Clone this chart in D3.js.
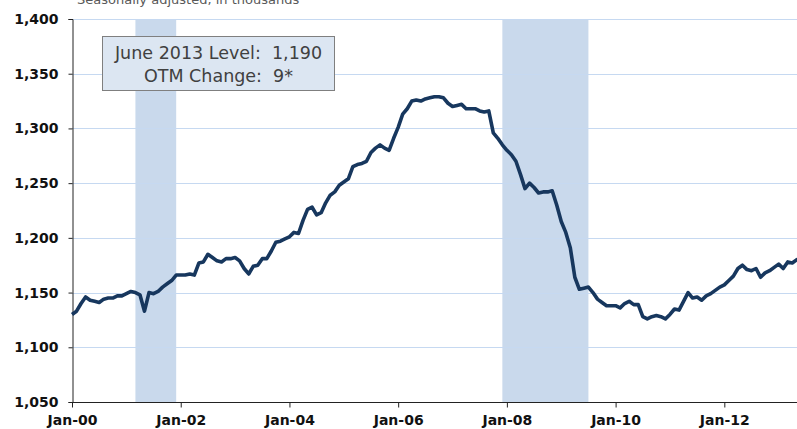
<!DOCTYPE html>
<html>
<head>
<meta charset="utf-8">
<script src="https://cdn.jsdelivr.net/npm/d3@7"></script>
<style>
  body { margin: 0; background: #fff; }
  svg { display: block; }
</style>
</head>
<body>
<div id="chart"></div>
<script>
/* Monthly employment, Jan 2000 - Jun 2013 */

const startYear = 2000

// seasonally adjusted, thousands, one value per month from Jan-00
const employment = [
  1130, 1133, 1140, 1146, 1143, 1142, 1141, 1144, 1145, 1145, 1147, 1147,
  1149, 1151, 1150, 1148, 1133, 1150, 1149, 1151, 1155, 1158, 1161, 1166,
  1166, 1166, 1167, 1166, 1177, 1178, 1185, 1182, 1179, 1178, 1181, 1181,
  1182, 1179, 1172, 1167, 1174, 1175, 1181, 1181, 1188, 1196, 1197, 1199,
  1201, 1205, 1204, 1216, 1226, 1228, 1221, 1223, 1232, 1239, 1242, 1248,
  1251, 1254, 1265, 1267, 1268, 1270, 1278, 1282, 1285, 1282, 1280, 1291,
  1301, 1313, 1318, 1325, 1326, 1325, 1327, 1328, 1329, 1329, 1328, 1323,
  1320, 1321, 1322, 1318, 1318, 1318, 1316, 1315, 1316, 1296, 1291, 1285,
  1280, 1276, 1270, 1258, 1245, 1250, 1246, 1241, 1242, 1242, 1243, 1230,
  1215, 1205, 1191, 1164, 1153, 1154, 1155, 1150, 1144, 1141, 1138, 1138,
  1138, 1136, 1140, 1142, 1139, 1139, 1128, 1126, 1128, 1129, 1128, 1126,
  1130, 1135, 1134, 1142, 1150, 1145, 1146, 1143, 1147, 1149, 1152, 1155,
  1157, 1161, 1165, 1172, 1175, 1171, 1170, 1172, 1164, 1168, 1170, 1173,
  1176, 1172, 1178, 1177, 1180, 1182
]

// recessions as [first month, month after end]
const recessions = [
  ["2001-03", "2001-12"],
  ["2007-12", "2009-07"]
]

const xTickLabels = ["Jan-00", "Jan-02", "Jan-04", "Jan-06", "Jan-08", "Jan-10", "Jan-12"]
const yTicks = [1050, 1100, 1150, 1200, 1250, 1300, 1350, 1400]

const subtitle = "Seasonally adjusted, in thousands"
const noteLines = ["June 2013 Level:  1,190", "OTM Change:  9*"]

const width = 797
const height = 429
const plotLeft = 72
const plotTop = 19
const plotBottom = 402
const fontFamily = "'DejaVu Sans', Verdana, sans-serif"

const monthIndex = s => {
  let [yr, m] = s.split("-").map(Number)
  return (yr - startYear) * 12 + (m - 1)
}

const svg = d3.select("#chart")
  .append("svg")
  .attr("width", width)
  .attr("height", height)
  .style("font-family", fontFamily)

let x = d3.scaleLinear()
  .domain([0, employment.length - 1])
  .range([plotLeft, plotLeft + (employment.length - 1) * 4.53])

let y = d3.scaleLinear()
  .domain([1050, 1400])
  .range([plotBottom, plotTop])

// recession bands
svg.append("g")
  .selectAll("rect")
  .data(recessions)
  .join("rect")
  .attr("x", d => x(monthIndex(d[0])))
  .attr("y", y(1400))
  .attr("width", d => x(monthIndex(d[1])) - x(monthIndex(d[0])))
  .attr("height", y(1050) - y(1400))
  .attr("fill", "#c9d9ec")

// gridlines
svg.append("g")
  .selectAll("line")
  .data(yTicks.slice(1))
  .join("line")
  .attr("x1", plotLeft)
  .attr("x2", width)
  .attr("y1", d => Math.round(y(d)) + 0.5)
  .attr("y2", d => Math.round(y(d)) + 0.5)
  .attr("stroke", "#c6d9f1")
  .attr("stroke-width", 1.2)

const styleAxis = g => {
  g.attr("font-family", fontFamily)
  g.select(".domain").attr("stroke", "#222")
  g.selectAll(".tick line").attr("stroke", "#222")
  g.selectAll("text")
    .attr("font-family", fontFamily)
    .attr("font-size", 14)
    .attr("font-weight", "bold")
    .attr("fill", "#111")
}

// y axis
svg.append("g")
  .attr("transform", `translate(${plotLeft + 0.5},0)`)
  .call(d3.axisLeft(y).tickValues(yTicks).tickSize(4).tickPadding(10)
    .tickFormat(d3.format(",")))
  .call(styleAxis)

// x axis
let xAxis = svg.append("g")
  .attr("transform", `translate(0,${Math.round(plotBottom) + 0.5})`)
  .call(d3.axisBottom(x)
    .tickValues(xTickLabels.map((d, i) => i * 24))
    .tickSize(5).tickPadding(8)
    .tickFormat((d, i) => xTickLabels[i]))
  .call(styleAxis)
xAxis.select(".domain").attr("d", `M${plotLeft},0H${width}`)

// employment line
let line = d3.line()
  .x((d, i) => x(i))
  .y(d => y(d))

svg.append("path")
  .datum(employment)
  .attr("d", line)
  .attr("fill", "none")
  .attr("stroke", "#17375e")
  .attr("stroke-width", 3.6)
  .attr("stroke-linejoin", "round")

// subtitle, mostly cut off at the top
svg.append("text")
  .attr("x", 77)
  .attr("y", 4)
  .text(subtitle)
  .style("font-size", "13px")
  .attr("fill", "#595959")

// level note
let note = svg.append("g")
note.append("rect")
  .attr("x", 102.5)
  .attr("y", 36.5)
  .attr("width", 232)
  .attr("height", 54)
  .attr("fill", "#dce6f2")
  .attr("stroke", "#7f7f7f")
  .attr("stroke-width", 1)
note.selectAll("text")
  .data(noteLines)
  .join("text")
  .attr("x", 218.5)
  .attr("y", (d, i) => 59 + i * 23)
  .attr("text-anchor", "middle")
  .style("font-size", "17.5px")
  .style("white-space", "pre")
  .attr("fill", "#404040")
  .text(d => d)
</script>
</body>
</html>
